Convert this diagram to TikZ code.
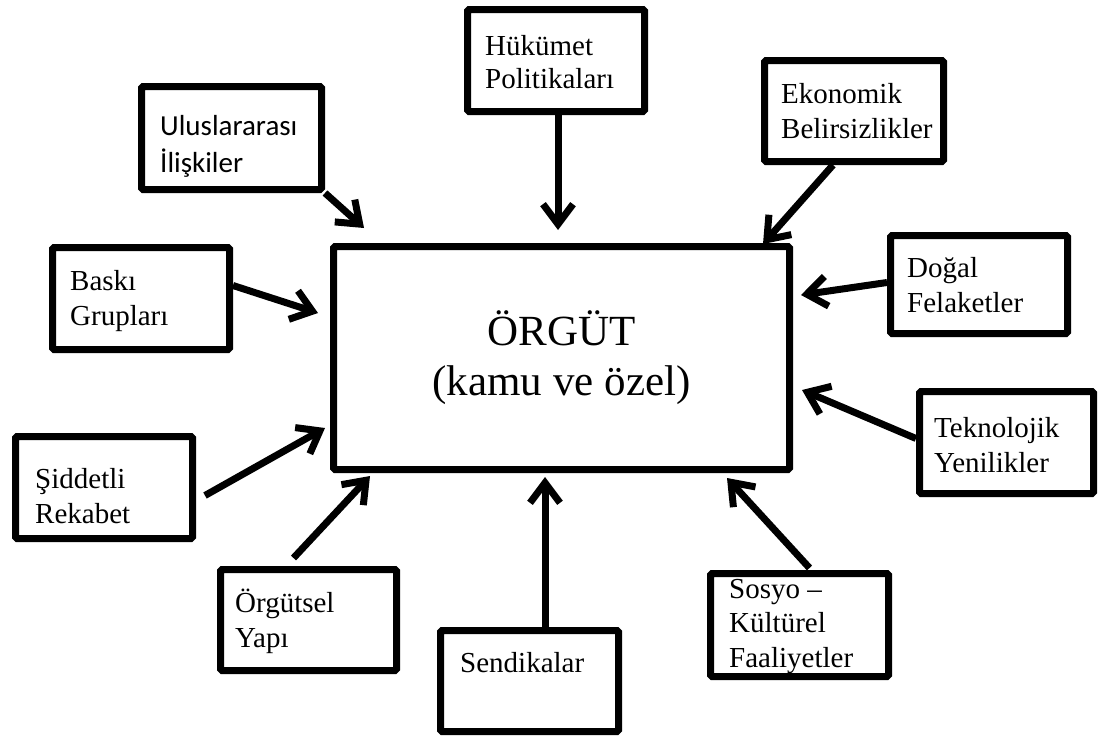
\documentclass[tikz,border=0pt]{standalone}
\usepackage{fontspec}
\setmainfont{Liberation Serif}
\newfontfamily\calibrifont{Carlito}
\usetikzlibrary{arrows.meta,calc}

\begin{document}
\begin{tikzpicture}[x=1pt,y=-1pt,
  box/.style={draw, line width=7pt, rounded corners=1.5pt, inner sep=0pt},
  lbl/.style={anchor=base west, align=left, inner sep=0pt, font=\fontsize{29}{34.5}\selectfont},
  feed/.style={line width=7pt, -{Straight Barb[length=20pt,width=30pt]}},
]
\useasboundingbox (0,0) rectangle (1099,737);

% central organisation box
\node[box, minimum width=456pt, minimum height=223pt, align=center,
      font=\fontsize{43}{50}\selectfont] (org) at (561.5,358) {ÖRGÜT\\(kamu ve özel)};

% surrounding factor boxes
\node[box, minimum width=177pt, minimum height=102pt] (huk)  at (556,60.5)    {};
\node[box, minimum width=180pt, minimum height=103pt] (ulus) at (231.5,138)   {};
\node[box, minimum width=179pt, minimum height=101pt] (eko)  at (854,111)     {};
\node[box, minimum width=177pt, minimum height=102pt] (bas)  at (141,298.5)   {};
\node[box, minimum width=177pt, minimum height=102pt] (sid)  at (104,487.5)   {};
\node[box, minimum width=177pt, minimum height=98pt]  (dog)  at (979,284.5)   {};
\node[box, minimum width=174pt, minimum height=102pt] (tek)  at (1006.5,442.5){};
\node[box, minimum width=176pt, minimum height=101pt] (orgs) at (308.5,620)   {};
\node[box, minimum width=178pt, minimum height=101pt] (sen)  at (529.5,681)   {};
\node[box, minimum width=178pt, minimum height=103pt] (sos)  at (799.5,625)   {};

% labels (placed by the baseline of their last line)
\node[lbl, font=\fontsize{29}{33}\selectfont] (huk-t) at (485,88) {Hükümet\\Politikaları};
\node[lbl, font=\calibrifont\fontsize{29}{37}\selectfont] (ulus-t) at (160,172) {Uluslararası\\İlişkiler};
\node[lbl] (eko-t)  at (781,138) {Ekonomik\\Belirsizlikler};
\node[lbl] (bas-t)  at (70,325)  {Baskı\\Grupları};
\node[lbl] (sid-t)  at (35,523)  {Şiddetli\\Rekabet};
\node[lbl] (dog-t)  at (907,312) {Doğal\\Felaketler};
\node[lbl] (tek-t)  at (934,472) {Teknolojik\\Yenilikler};
\node[lbl] (orgs-t) at (235,647) {Örgütsel\\Yapı};
\node[lbl] (sen-t)  at (460,672) {Sendikalar};
\node[lbl] (sos-t)  at (729,667) {Sosyo –\\Kültürel\\Faaliyetler};

% arrow tips near the central box
\coordinate (tip-huk)  at (558,230);
\coordinate (tip-ulus) at (364,228);
\coordinate (tip-eko)  at (763,244);
\coordinate (tip-bas)  at (318,313);
\coordinate (tip-sid)  at (325,428);
\coordinate (tip-dog)  at (801,295);
\coordinate (tip-tek)  at (802,390);
\coordinate (tip-orgs) at (370,476);
\coordinate (tip-sen)  at (545,477);
\coordinate (tip-sos)  at (727,478);

% influences
\draw[feed] (tip-huk |- huk.south) -- (tip-huk);
\draw[feed] (ulus.south east) -- (tip-ulus);
\draw[feed] ($(eko.south west)+(72,0)$) -- (tip-eko);
\draw[feed] ($(bas.east)+(0,-13)$) -- (tip-bas);
\draw[feed] ($(sid.east)+(9,8)$) -- (tip-sid);
\draw[feed] ($(dog.west)+(0,-2)$) -- (tip-dog);
\draw[feed] ($(tek.west)+(0,-4)$) -- (tip-tek);
\draw[feed] ($(orgs.north)+(-15,-8)$) -- (tip-orgs);
\draw[feed] (tip-sen |- sen.north) -- (tip-sen);
\draw[feed] ($(sos.north)+(10,-2)$) -- (tip-sos);
\end{tikzpicture}
\end{document}
